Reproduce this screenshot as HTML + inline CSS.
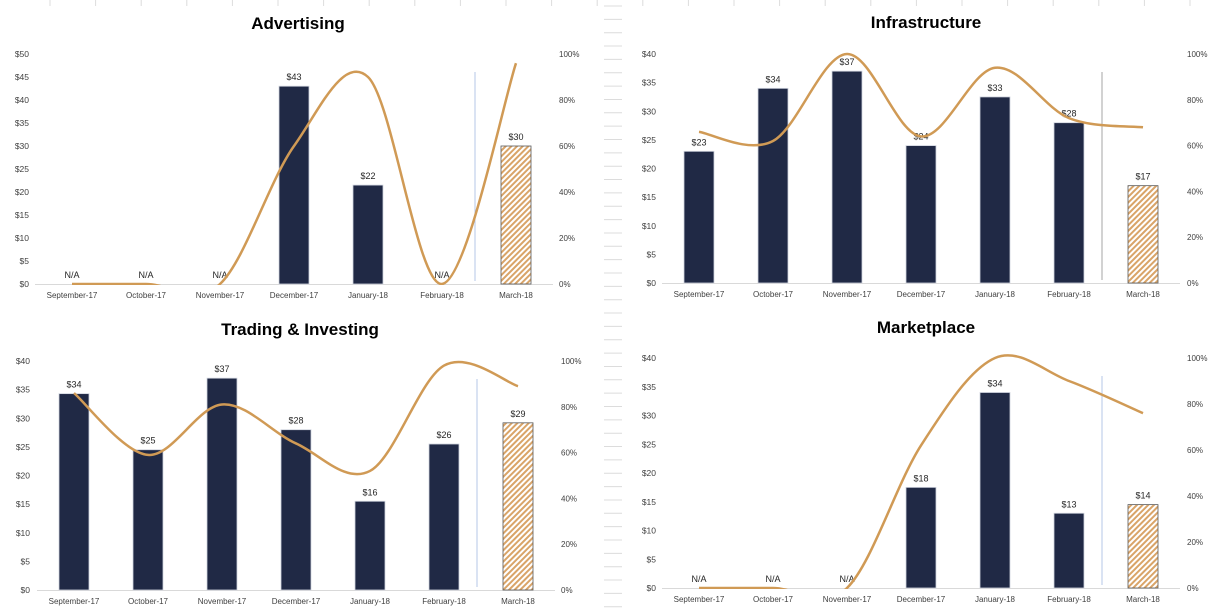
<!DOCTYPE html>
<html><head><meta charset="utf-8"><style>
html,body{margin:0;padding:0;background:#fff;}
svg{display:block;font-family:"Liberation Sans",Arial,sans-serif;}
</style></head><body>
<svg id="s" width="1224" height="613" viewBox="0 0 1224 613" xmlns="http://www.w3.org/2000/svg">
<defs>
<pattern id="hatch" patternUnits="userSpaceOnUse" width="4" height="4" patternTransform="rotate(45)">
<rect width="4" height="4" fill="#fff"/>
<rect width="2" height="4" fill="#D9A468"/>
</pattern>
<clipPath id="c1"><rect x="0" y="40" width="612" height="245"/></clipPath>
<clipPath id="c2"><rect x="612" y="40" width="612" height="244"/></clipPath>
<clipPath id="c3"><rect x="0" y="345" width="612" height="246"/></clipPath>
<clipPath id="c4"><rect x="612" y="345" width="612" height="244"/></clipPath>
</defs>
<g id="bg"></g>
</svg>
<script>
const categories = ["September-17","October-17","November-17","December-17","January-18","February-18","March-18"];
const advBars = [0,0,0,43,21.5,0,30];
const advLine = [0,0,0,60,90,0,96];
const infBars = [23,34,37,24,32.5,28,17];
const infLine = [66,62,100,64,94,72,68];
const trdBars = [34.3,24.5,37,28,15.5,25.5,29.2];
const trdLine = [86,59,81,64,52,98,89];
const mktBars = [0,0,0,17.5,34,13,14.5];
const mktLine = [0,0,0,62,100,90,76];
const barLabels1 = ["N/A","N/A","N/A","$43","$22","N/A","$30"];
const barLabels2 = ["$23","$34","$37","$24","$33","$28","$17"];
const barLabels3 = ["$34","$25","$37","$28","$16","$26","$29"];
const barLabels4 = ["N/A","N/A","N/A","$18","$34","$13","$14"];
const pctTicks = ["0%","20%","40%","60%","80%","100%"];

const NS="http://www.w3.org/2000/svg";
const svg=document.getElementById('s');
function mk(tag,attrs,parent,txt){const e=document.createElementNS(NS,tag);for(const k in attrs)e.setAttribute(k,attrs[k]);if(txt!==undefined)e.textContent=txt;(parent||svg).appendChild(e);return e;}

// sheet background bits
const bg=document.getElementById('bg');
for(let x=50;x<1224;x+=45.6){const l=mk('line',{x1:x,y1:0,x2:x,y2:6,stroke:'#dcdcdc','stroke-width':1},bg);}
for(let y=6;y<613;y+=13.35){mk('line',{x1:604,y1:y,x2:622,y2:y,stroke:'#dcdcdc','stroke-width':1},bg);}

const charts=[
 {name:'advertising',title:'Advertising',tx:298,ty:29,bx:35,zero:284,top:54,max:50,step:5,lr:29,rx:559,bars:advBars,line:advLine,labels:barLabels1,clip:'c1',vline:'#b4c7e7'},
 {name:'infrastructure',title:'Infrastructure',tx:926,ty:28,bx:662,zero:283,top:54,max:40,step:5,lr:656,rx:1187,bars:infBars,line:infLine,labels:barLabels2,clip:'c2',vline:'#a6a6a6'},
 {name:'trading-investing',title:'Trading & Investing',tx:300,ty:335,bx:37,zero:590,top:361,max:40,step:5,lr:30,rx:561,bars:trdBars,line:trdLine,labels:barLabels3,clip:'c3',vline:'#b4c7e7'},
 {name:'marketplace',title:'Marketplace',tx:926,ty:333,bx:662,zero:588,top:358,max:40,step:5,lr:656,rx:1187,bars:mktBars,line:mktLine,labels:barLabels4,clip:'c4',vline:'#b4c7e7'}
];
const BW=74;
charts.forEach(c=>{
 const g=mk('g',{});
 
 
 const xC=i=>c.bx+BW*i+BW/2;
 const yL=v=>c.zero-(c.zero-c.top)*v/c.max;
 const yR=p=>c.zero-(c.zero-c.top)*p/100;
 const t=mk('text',{x:c.tx,y:c.ty,'text-anchor':'middle','font-size':17,'font-weight':'bold',fill:'#000'},g,c.title);
 
 
 for(let v=0;v<=c.max;v+=c.step){
  const e=mk('text',{x:c.lr,y:yL(v)+3,'text-anchor':'end','font-size':8.5,fill:'#404040'},g,'$'+v);
  
  
 }
 pctTicks.forEach((p,i)=>{
  const e=mk('text',{x:c.rx,y:yR(i*20)+3,'font-size':8,fill:'#404040'},g,p);
  
  
 });
 const ax=mk('line',{x1:c.bx,y1:c.zero+0.5,x2:c.bx+BW*7,y2:c.zero+0.5,stroke:'#d9d9d9','stroke-width':1},g);
 
 
 categories.forEach((cat,i)=>{
  const e=mk('text',{x:xC(i),y:c.zero+14,'text-anchor':'middle','font-size':8,fill:'#404040'},g,cat);
  
  
 });
 // divider
 const vl=mk('line',{x1:c.bx+BW*6-4,y1:c.top+18,x2:c.bx+BW*6-4,y2:c.zero-3,stroke:c.vline,'stroke-width':1},g);
 
 
 c.bars.forEach((v,i)=>{
  const last=i===6;
  if(v>0){
   const r=mk('rect',{x:xC(i)-15,y:yL(v),width:30,height:c.zero-yL(v),fill:last?'url(#hatch)':'#202945',stroke:last?'#595959':'#d0d4de','stroke-width':0.8},g);
   
   
  }
  const lb=mk('text',{x:xC(i),y:yL(v)-6,'text-anchor':'middle','font-size':9,fill:'#262626'},g,c.labels[i]);
  
  
 });
 const pts=c.line.map((p,i)=>[xC(i),yR(p)]);
 let d='M'+pts[0][0]+','+pts[0][1];
 for(let i=0;i<pts.length-1;i++){
  const p0=pts[Math.max(0,i-1)],p1=pts[i],p2=pts[i+1],p3=pts[Math.min(pts.length-1,i+2)];
  const c1=[p1[0]+(p2[0]-p0[0])/6,p1[1]+(p2[1]-p0[1])/6];
  const c2=[p2[0]-(p3[0]-p1[0])/6,p2[1]-(p3[1]-p1[1])/6];
  d+=' C'+c1[0]+','+c1[1]+' '+c2[0]+','+c2[1]+' '+p2[0]+','+p2[1];
 }
 const pl=mk('path',{d:d,fill:'none',stroke:'#D09A55','stroke-width':2.5,'clip-path':'url(#'+c.clip+')'},g);
 
 
});
</script>
</body></html>
